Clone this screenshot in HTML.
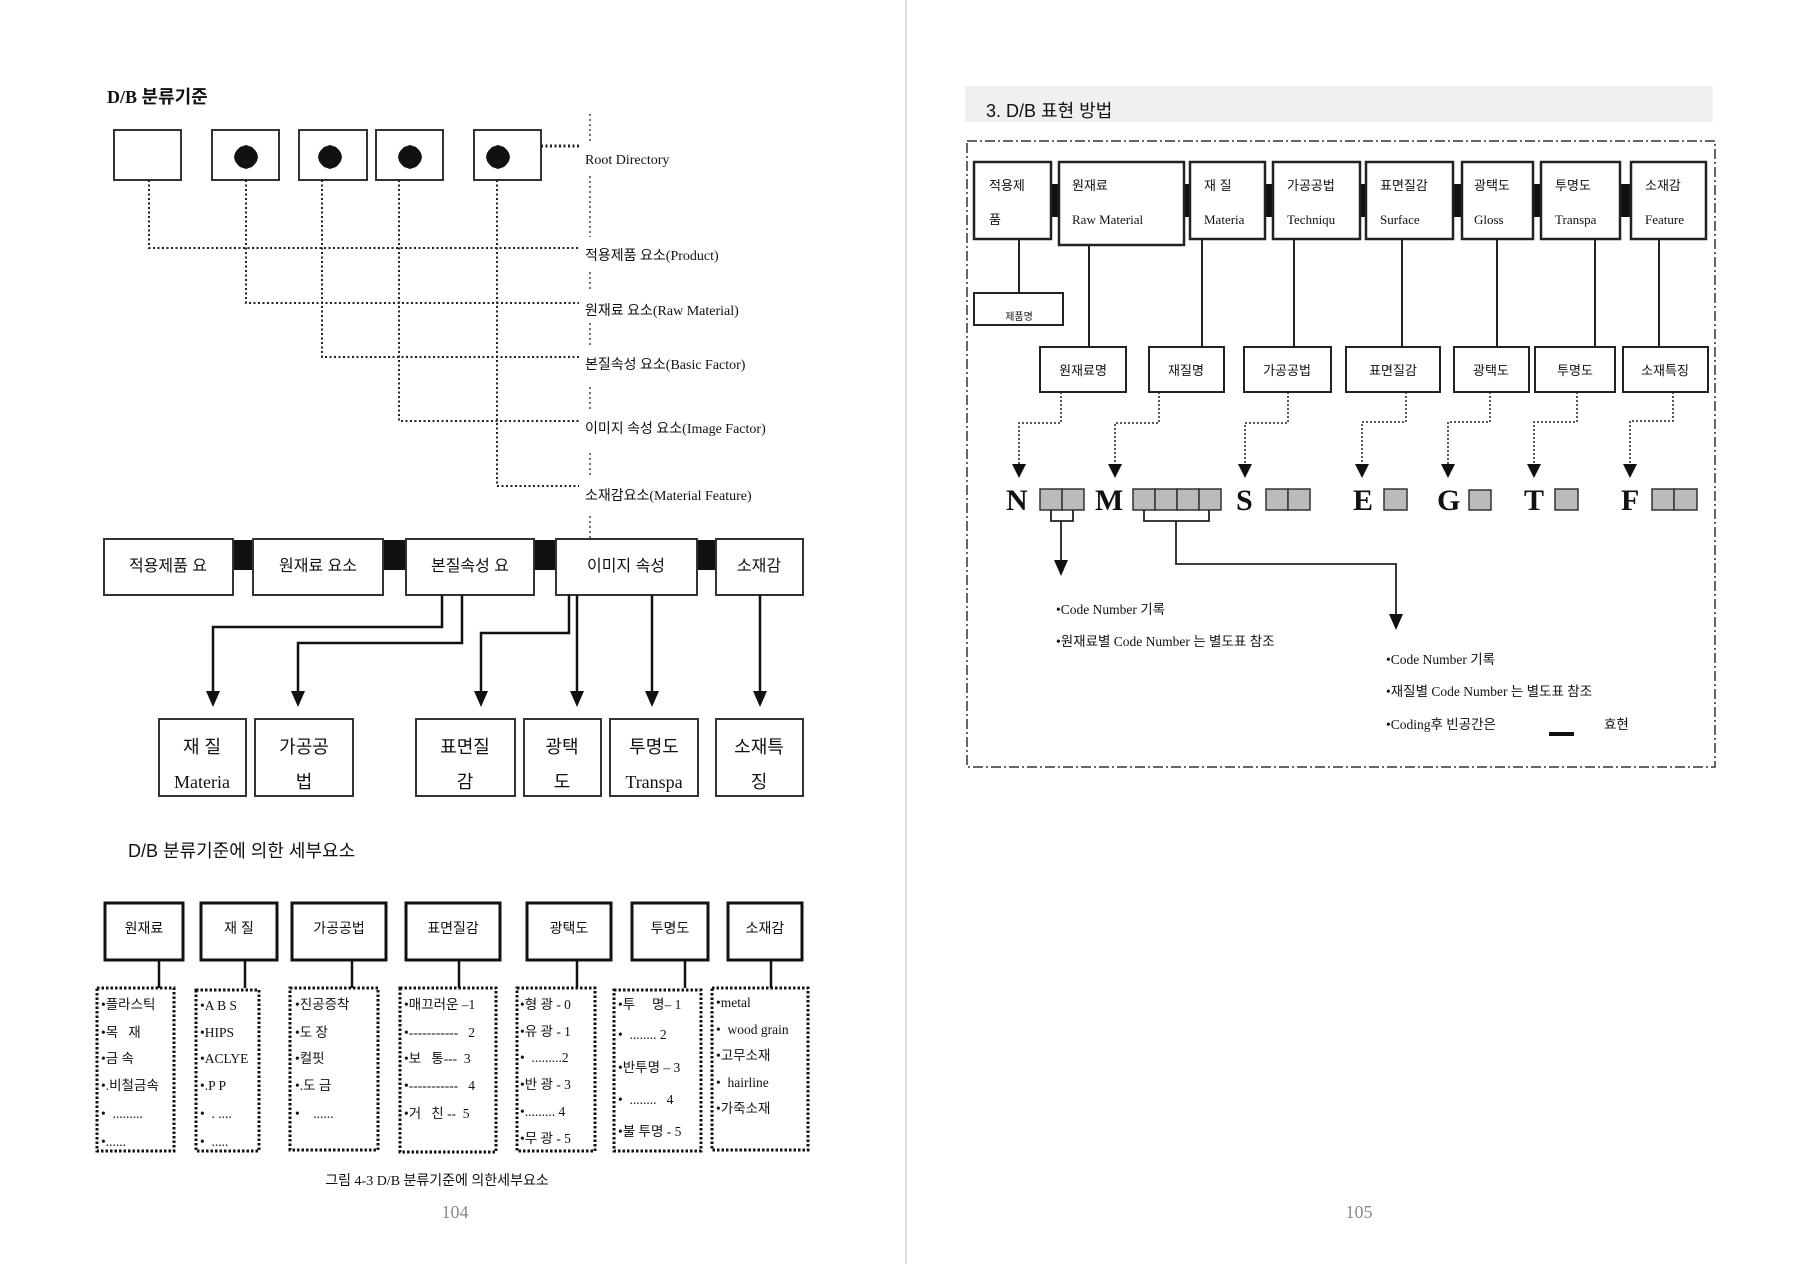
<!DOCTYPE html>
<html><head><meta charset="utf-8"><style>
html,body{margin:0;padding:0;background:#fff}
svg{display:block}
text{font-family:"Liberation Serif","Noto Sans CJK KR",serif;fill:#111}
.s{font-family:"Liberation Sans","Noto Sans CJK KR",sans-serif}
</style></head><body>
<svg width="1794" height="1264" viewBox="0 0 1794 1264" xmlns="http://www.w3.org/2000/svg">
<defs>
<g id="dot"><polygon points="0,-12 3,-11 6,-10 9,-7 11,-4 12,0 11,4 9,7 6,10 3,11 0,12 -3,11 -6,10 -9,7 -11,4 -12,0 -11,-4 -9,-7 -6,-10 -3,-11" fill="#111"/></g>
</defs>
<rect x="0" y="0" width="1794" height="1264" fill="#fff"/>
<line x1="906" y1="0" x2="906" y2="1264" stroke="#ddd" stroke-width="2"/>

<!-- LEFT PAGE -->
<text x="107" y="103" font-size="18" font-weight="bold">D/B 분류기준</text>
<g stroke="#333" stroke-width="2" fill="#fff">
<rect x="114" y="130" width="67" height="50"/>
<rect x="212" y="130" width="67" height="50"/>
<rect x="299" y="130" width="68" height="50"/>
<rect x="376" y="130" width="67" height="50"/>
<rect x="474" y="130" width="67" height="50"/>
</g>
<use href="#dot" x="246" y="157"/><use href="#dot" x="330" y="157"/><use href="#dot" x="410" y="157"/><use href="#dot" x="498" y="157"/>
<g stroke="#222" stroke-width="2" stroke-dasharray="2,2.5" fill="none">
<polyline points="149,180 149,248 579,248"/>
<polyline points="246,180 246,303 579,303"/>
<polyline points="322,180 322,357 579,357"/>
<polyline points="399,180 399,421 579,421"/>
<polyline points="497,180 497,486 579,486"/>
<line x1="541" y1="146" x2="579" y2="146" stroke-width="3"/>
</g>
<g stroke="#444" stroke-width="1.5" stroke-dasharray="2,3">
<line x1="590" y1="114" x2="590" y2="142"/><line x1="590" y1="176" x2="590" y2="237"/>
<line x1="590" y1="272" x2="590" y2="292"/><line x1="590" y1="323" x2="590" y2="346"/>
<line x1="590" y1="387" x2="590" y2="410"/><line x1="590" y1="453" x2="590" y2="477"/>
<line x1="590" y1="516" x2="590" y2="538"/>
</g>
<g font-size="14">
<text x="585" y="164">Root Directory</text>
<text x="585" y="260">적용제품 요소(Product)</text>
<text x="585" y="315">원재료 요소(Raw Material)</text>
<text x="585" y="369">본질속성 요소(Basic Factor)</text>
<text x="585" y="433">이미지 속성 요소(Image Factor)</text>
<text x="585" y="500">소재감요소(Material Feature)</text>
</g>

<!-- middle row -->
<g fill="#111">
<rect x="233" y="540" width="20" height="30"/><rect x="383" y="540" width="23" height="30"/>
<rect x="534" y="540" width="22" height="30"/><rect x="697" y="540" width="19" height="30"/>
</g>
<g stroke="#333" stroke-width="2" fill="#fff">
<rect x="104" y="539" width="129" height="56"/>
<rect x="253" y="539" width="130" height="56"/>
<rect x="406" y="539" width="128" height="56"/>
<rect x="556" y="539" width="141" height="56"/>
<rect x="716" y="539" width="87" height="56"/>
</g>
<g font-size="16" class="s" text-anchor="middle">
<text class="s" x="168" y="571">적용제품 요</text>
<text class="s" x="318" y="571">원재료 요소</text>
<text class="s" x="470" y="571">본질속성 요</text>
<text class="s" x="626" y="571">이미지 속성</text>
<text class="s" x="759" y="571">소재감</text>
</g>
<g stroke="#111" stroke-width="2.5" fill="none">
<polyline points="442,595 442,627 213,627 213,692"/>
<polyline points="462,595 462,643 298,643 298,692"/>
<polyline points="569,595 569,633 481,633 481,692"/>
<line x1="577" y1="595" x2="577" y2="692"/>
<line x1="652" y1="595" x2="652" y2="692"/>
<line x1="760" y1="595" x2="760" y2="692"/>
</g>
<g fill="#111">
<polygon points="206,691 220,691 213,707"/><polygon points="291,691 305,691 298,707"/>
<polygon points="474,691 488,691 481,707"/><polygon points="570,691 584,691 577,707"/>
<polygon points="645,691 659,691 652,707"/><polygon points="753,691 767,691 760,707"/>
</g>
<g stroke="#333" stroke-width="2" fill="#fff">
<rect x="159" y="719" width="87" height="77"/><rect x="255" y="719" width="98" height="77"/>
<rect x="416" y="719" width="99" height="77"/><rect x="524" y="719" width="77" height="77"/>
<rect x="610" y="719" width="88" height="77"/><rect x="716" y="719" width="87" height="77"/>
</g>
<g font-size="18" text-anchor="middle">
<text x="202" y="753" class="s">재 질</text><text x="202" y="788">Materia</text>
<text x="304" y="753" class="s">가공공</text><text x="304" y="788" class="s">법</text>
<text x="465" y="753" class="s">표면질</text><text x="465" y="788" class="s">감</text>
<text x="562" y="753" class="s">광택</text><text x="562" y="788" class="s">도</text>
<text x="654" y="753" class="s">투명도</text><text x="654" y="788">Transpa</text>
<text x="759" y="753" class="s">소재특</text><text x="759" y="788" class="s">징</text>
</g>

<text x="128" y="857" font-size="18" class="s">D/B 분류기준에 의한 세부요소</text>

<g transform="translate(0,-4)">
<g stroke="#111" stroke-width="3" fill="#fff">
<rect x="105" y="907" width="78" height="57"/><rect x="201" y="907" width="76" height="57"/>
<rect x="292" y="907" width="94" height="57"/><rect x="406" y="907" width="94" height="57"/>
<rect x="527" y="907" width="84" height="57"/><rect x="632" y="907" width="76" height="57"/>
<rect x="728" y="907" width="74" height="57"/>
</g>
<g font-size="14" class="s" text-anchor="middle">
<text class="s" x="144" y="937">원재료</text><text class="s" x="239" y="937">재 질</text>
<text class="s" x="339" y="937">가공공법</text><text class="s" x="453" y="937">표면질감</text>
<text class="s" x="569" y="937">광택도</text><text class="s" x="670" y="937">투명도</text>
<text class="s" x="765" y="937">소재감</text>
</g>
<g stroke="#111" stroke-width="2.5">
<line x1="159" y1="964" x2="159" y2="992"/><line x1="245" y1="964" x2="245" y2="992"/>
<line x1="352" y1="964" x2="352" y2="992"/><line x1="459" y1="964" x2="459" y2="992"/>
<line x1="577" y1="964" x2="577" y2="992"/><line x1="685" y1="964" x2="685" y2="992"/>
<line x1="771" y1="964" x2="771" y2="992"/>
</g>
<g stroke="#111" stroke-width="3" stroke-dasharray="2.5,2" fill="none">
<rect x="97" y="992" width="77" height="163"/><rect x="196" y="994" width="63" height="161"/>
<rect x="290" y="992" width="88" height="162"/><rect x="400" y="992" width="96" height="164"/>
<rect x="517" y="992" width="78" height="163"/><rect x="614" y="994" width="87" height="161"/>
<rect x="712" y="992" width="96" height="162"/>
</g>
<g font-size="13.5">
<text x="101" y="1013">•플라스틱</text><text x="101" y="1041">•목 &#160;&#160;재</text><text x="101" y="1067">•금 속</text><text x="101" y="1094">•.비철금속</text><text x="101" y="1122">• &#160;.........</text><text x="101" y="1150">•......</text>
<text x="200" y="1014">•A B S</text><text x="200" y="1041">•HIPS</text><text x="200" y="1067">•ACLYE</text><text x="200" y="1094">•.P P</text><text x="200" y="1122">• &#160;. ....</text><text x="200" y="1150">• &#160;.....</text>
<text x="295" y="1013">•진공증착</text><text x="295" y="1041">•도 장</text><text x="295" y="1067">•컬핏</text><text x="295" y="1094">•.도 금</text><text x="295" y="1122">• &#160;&#160;&#160;......</text>
<text x="404" y="1013">•매끄러운 –1</text><text x="404" y="1041">•----------- &#160;&#160;2</text><text x="404" y="1067">•보 &#160;&#160;통--- &#160;3</text><text x="404" y="1094">•----------- &#160;&#160;4</text><text x="404" y="1122">•거 &#160;&#160;친 -- &#160;5</text>
<text x="520" y="1013">•형 광 - 0</text><text x="520" y="1040">•유 광 - 1</text><text x="520" y="1066">• &#160;.........2</text><text x="520" y="1093">•반 광 - 3</text><text x="520" y="1120">•......... 4</text><text x="520" y="1147">•무 광 - 5</text>
<text x="618" y="1013">•투 &#160;&#160;&#160;&#160;명– 1</text><text x="618" y="1043">• &#160;........ 2</text><text x="618" y="1076">•반투명 – 3</text><text x="618" y="1108">• &#160;........ &#160;&#160;4</text><text x="618" y="1140">•불 투명 - 5</text>
<text x="716" y="1011">•metal</text><text x="716" y="1038">• &#160;wood grain</text><text x="716" y="1064">•고무소재</text><text x="716" y="1091">• &#160;hairline</text><text x="716" y="1117">•가죽소재</text>
</g>
</g>
<text x="437" y="1185" font-size="14" text-anchor="middle">그림 4-3 D/B 분류기준에 의한세부요소</text>
<text x="455" y="1218" font-size="18" text-anchor="middle" style="fill:#888">104</text>

<!-- RIGHT PAGE -->
<rect x="965" y="86" width="748" height="36" fill="#f0f0f0"/>
<text x="986" y="117" font-size="18" class="s">3. D/B 표현 방법</text>
<rect x="967" y="141" width="748" height="626" fill="none" stroke="#333" stroke-width="1.5" stroke-dasharray="10,3,2,3"/>
<g fill="#111">
<rect x="1051" y="184" width="8" height="33"/><rect x="1184" y="184" width="6" height="33"/>
<rect x="1265" y="184" width="8" height="33"/><rect x="1360" y="184" width="6" height="33"/>
<rect x="1453" y="184" width="9" height="33"/><rect x="1533" y="184" width="8" height="33"/>
<rect x="1620" y="184" width="11" height="33"/>
</g>
<g stroke="#222" stroke-width="2.5" fill="#fff">
<rect x="974" y="162" width="77" height="77"/><rect x="1059" y="162" width="125" height="83"/>
<rect x="1190" y="162" width="75" height="77"/><rect x="1273" y="162" width="87" height="77"/>
<rect x="1366" y="162" width="87" height="77"/><rect x="1462" y="162" width="71" height="77"/>
<rect x="1541" y="162" width="79" height="77"/><rect x="1631" y="162" width="75" height="77"/>
</g>
<g font-size="13">
<text class="s" x="989" y="190">적용제</text><text class="s" x="989" y="224">품</text>
<text class="s" x="1072" y="190">원재료</text><text x="1072" y="224">Raw Material</text>
<text class="s" x="1204" y="190">재 질</text><text x="1204" y="224">Materia</text>
<text class="s" x="1287" y="190">가공공법</text><text x="1287" y="224">Techniqu</text>
<text class="s" x="1380" y="190">표면질감</text><text x="1380" y="224">Surface</text>
<text class="s" x="1474" y="190">광택도</text><text x="1474" y="224">Gloss</text>
<text class="s" x="1555" y="190">투명도</text><text x="1555" y="224">Transpa</text>
<text class="s" x="1645" y="190">소재감</text><text x="1645" y="224">Feature</text>
</g>
<g stroke="#222" stroke-width="2">
<line x1="1019" y1="239" x2="1019" y2="293"/><line x1="1089" y1="245" x2="1089" y2="347"/>
<line x1="1202" y1="239" x2="1202" y2="347"/><line x1="1294" y1="239" x2="1294" y2="347"/>
<line x1="1402" y1="239" x2="1402" y2="347"/><line x1="1497" y1="239" x2="1497" y2="347"/>
<line x1="1595" y1="239" x2="1595" y2="347"/><line x1="1659" y1="239" x2="1659" y2="347"/>
</g>
<g stroke="#222" stroke-width="2" fill="#fff">
<rect x="974" y="293" width="89" height="32"/>
<rect x="1040" y="347" width="86" height="45"/><rect x="1149" y="347" width="75" height="45"/>
<rect x="1244" y="347" width="87" height="45"/><rect x="1346" y="347" width="94" height="45"/>
<rect x="1454" y="347" width="75" height="45"/><rect x="1535" y="347" width="80" height="45"/>
<rect x="1623" y="347" width="85" height="45"/>
</g>
<text class="s" x="1019" y="320" font-size="10" text-anchor="middle">제품명</text>
<g font-size="13" text-anchor="middle">
<text class="s" x="1083" y="375">원재료명</text><text class="s" x="1186" y="375">재질명</text>
<text class="s" x="1287" y="375">가공공법</text><text class="s" x="1393" y="375">표면질감</text>
<text class="s" x="1491" y="375">광택도</text><text class="s" x="1575" y="375">투명도</text>
<text class="s" x="1665" y="375">소재특징</text>
</g>
<g stroke="#222" stroke-width="1.5" stroke-dasharray="2,2" fill="none">
<polyline points="1061,392 1061,423 1019,423 1019,466"/>
<polyline points="1159,392 1159,423 1115,423 1115,466"/>
<polyline points="1288,392 1288,423 1245,423 1245,466"/>
<polyline points="1406,392 1406,422 1362,422 1362,466"/>
<polyline points="1490,392 1490,422 1448,422 1448,466"/>
<polyline points="1577,392 1577,422 1534,422 1534,466"/>
<polyline points="1673,392 1673,421 1630,421 1630,466"/>
</g>
<g fill="#111">
<polygon points="1012,464 1026,464 1019,478"/><polygon points="1108,464 1122,464 1115,478"/>
<polygon points="1238,464 1252,464 1245,478"/><polygon points="1355,464 1369,464 1362,478"/>
<polygon points="1441,464 1455,464 1448,478"/><polygon points="1527,464 1541,464 1534,478"/>
<polygon points="1623,464 1637,464 1630,478"/>
</g>
<g font-size="30" font-weight="bold">
<text x="1006" y="510">N</text><text x="1095" y="510">M</text><text x="1236" y="510">S</text>
<text x="1353" y="510">E</text><text x="1437" y="510">G</text><text x="1524" y="510">T</text>
<text x="1621" y="510">F</text>
</g>
<g fill="#bbb" stroke="#333" stroke-width="1.5">
<rect x="1040" y="489" width="22" height="21"/><rect x="1062" y="489" width="22" height="21"/>
<rect x="1133" y="489" width="22" height="21"/><rect x="1155" y="489" width="22" height="21"/><rect x="1177" y="489" width="22" height="21"/><rect x="1199" y="489" width="22" height="21"/>
<rect x="1266" y="489" width="22" height="21"/><rect x="1288" y="489" width="22" height="21"/>
<rect x="1384" y="489" width="23" height="21"/><rect x="1469" y="490" width="22" height="20"/>
<rect x="1555" y="489" width="23" height="21"/>
<rect x="1652" y="489" width="22" height="21"/><rect x="1674" y="489" width="23" height="21"/>
</g>
<g stroke="#222" stroke-width="1.8" fill="none">
<polyline points="1051,510 1051,521 1073,521 1073,510"/>
<line x1="1061" y1="521" x2="1061" y2="562"/>
<polyline points="1144,510 1144,521 1209,521 1209,510"/>
<polyline points="1176,521 1176,564 1396,564 1396,616"/>
</g>
<polygon points="1054,560 1068,560 1061,576" fill="#111"/>
<polygon points="1389,614 1403,614 1396,630" fill="#111"/>
<g font-size="13.5">
<text x="1056" y="614">•Code Number 기록</text>
<text x="1056" y="646">•원재료별 Code Number 는 별도표 참조</text>
<text x="1386" y="664">•Code Number 기록</text>
<text x="1386" y="696">•재질별 Code Number 는 별도표 참조</text>
<text x="1386" y="729">•Coding후 빈공간은</text>
<text x="1604" y="729">효현</text>
</g>
<rect x="1549" y="732" width="25" height="4" fill="#111"/>
<text x="1359" y="1218" font-size="18" text-anchor="middle" style="fill:#888">105</text>
</svg>
</body></html>
